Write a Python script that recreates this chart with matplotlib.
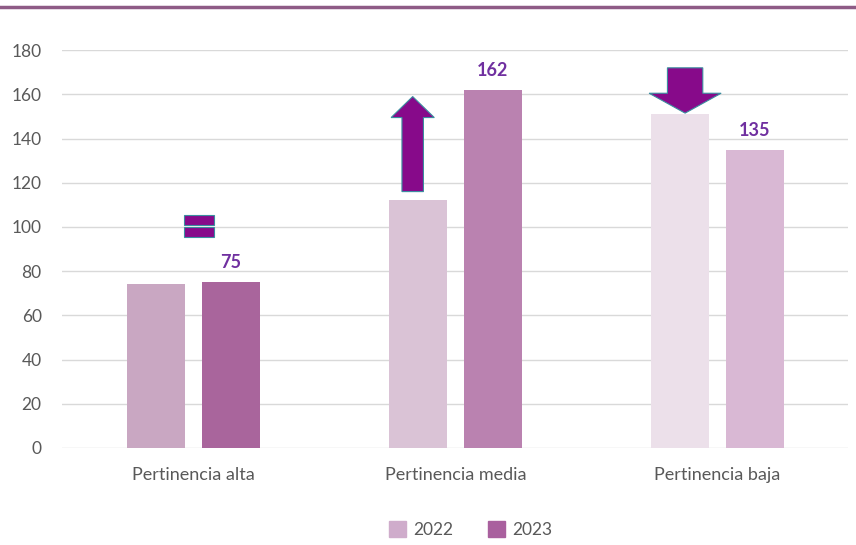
import matplotlib
matplotlib.use('Agg')
import matplotlib.pyplot as plt
import numpy as np
from matplotlib.patches import FancyArrow, Rectangle
from matplotlib.lines import Line2D

plt.rcParams['font.family'] = ['Lato', 'DejaVu Sans']

# Data
categories = ['Pertinencia alta', 'Pertinencia media', 'Pertinencia baja']
series = ['2022', '2023']
values_2022 = [74, 112, 151]
values_2023 = [75, 162, 135]
labels_2023 = ['75', '162', '135']

# colours per bar (shade changes by category)
colors_2022 = ['#c9a7c2', '#dac3d6', '#ece0ea']
colors_2023 = ['#a9659c', '#ba82b0', '#d9b8d4']
legend_colors = ['#cfaccb', '#a9609e']

fig = plt.figure(figsize=(8.56, 5.45), dpi=100)
ax = fig.add_axes([0.073, 0.178, 0.918, 0.730])

x = np.arange(len(categories))
w = 0.222
off = 0.143

ax.bar(x - off, values_2022, w, color=colors_2022, zorder=2)
bars23 = ax.bar(x + off, values_2023, w, color=colors_2023, zorder=2)

for rect, lab in zip(bars23, labels_2023):
    ax.text(rect.get_x() + rect.get_width() / 2, rect.get_height() + 5, lab,
            ha='center', va='bottom', color='#7030a0', fontsize=13,
            fontweight='bold')

# change markers
arrow_fc = '#870a8a'
arrow_ec = '#3b8ea0'
# equal sign for "alta"
for y0 in (95.5, 101.0):
    ax.add_patch(Rectangle((0.0 - 0.057 + 0.02, y0), 0.114, 4.3,
                           facecolor=arrow_fc, edgecolor=arrow_ec, lw=0.8, zorder=3))
# up arrow for "media"
ax.add_patch(FancyArrow(1 - off - 0.02, values_2022[1] + 4, 0, 43, width=0.082,
                        head_width=0.165, head_length=9.5,
                        length_includes_head=True, facecolor=arrow_fc,
                        edgecolor=arrow_ec, lw=0.8, zorder=3))
# down arrow for "baja"
ax.add_patch(FancyArrow(2 - off + 0.02, 172, 0, -20.5, width=0.135,
                        head_width=0.275, head_length=9,
                        length_includes_head=True, facecolor=arrow_fc,
                        edgecolor=arrow_ec, lw=0.8, zorder=3))

ax.set_xlim(-0.5, 2.5)
ax.set_ylim(0, 180)
ax.set_yticks(np.arange(0, 181, 20))
ax.set_xticks(x)
ax.set_xticklabels(categories)
ax.yaxis.grid(True, color='#d9d9d9', lw=1.0, zorder=0)
ax.set_axisbelow(True)
for s in ax.spines.values():
    s.set_visible(False)
ax.tick_params(axis='both', length=0, colors='#595959')
ax.tick_params(axis='y', pad=15, labelsize=12.5)
ax.tick_params(axis='x', pad=14, labelsize=13)

handles = [Rectangle((0, 0), 1, 1, color=c) for c in legend_colors]
fig.legend(handles, series, loc='center', bbox_to_anchor=(0.55, 0.028), ncol=2,
           frameon=False, fontsize=12.5, labelcolor='#595959',
           handlelength=1.0, handleheight=1.0, columnspacing=2.0,
           handletextpad=0.4)

fig.add_artist(Line2D([0, 1], [0.987, 0.987], color='#8e5b86', lw=2.5,
                      transform=fig.transFigure))

fig.savefig('out.png', dpi=100)
